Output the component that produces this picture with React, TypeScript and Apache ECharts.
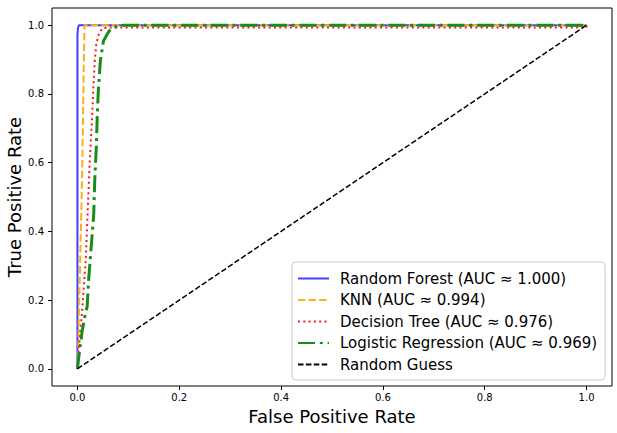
import React, { useEffect, useRef } from "react";
import * as echarts from "echarts";

const rfFpr = [0, 0, 0.001, 0.003, 1];
const rfTpr = [0, 0.97, 0.992, 1, 1];

const knnFpr = [0, 0.001, 0.003, 0.006, 0.009, 0.011, 0.0125, 0.014, 1];
const knnTpr = [0, 0.02, 0.165, 0.355, 0.55, 0.74, 0.896, 1, 1];

const dtFpr = [0, 0.003, 0.009, 0.016, 0.02, 0.024, 0.029, 0.031, 0.034, 0.037, 0.042, 0.049, 0.06, 1, 1];
const dtTpr = [0, 0.066, 0.165, 0.31, 0.454, 0.6, 0.74, 0.81, 0.896, 0.945, 0.974, 0.991, 0.993, 0.993, 1];

const lrFpr = [0, 0.003, 0.009, 0.016, 0.019, 0.022, 0.027, 0.032, 0.034, 0.037, 0.039, 0.041, 0.045, 0.051, 0.062, 0.071, 0.09, 1];
const lrTpr = [0, 0.038, 0.107, 0.165, 0.18, 0.26, 0.355, 0.45, 0.55, 0.645, 0.74, 0.81, 0.896, 0.954, 0.983, 0.994, 1, 1];

const guessFpr = [0, 1];
const guessTpr = [0, 1];

const seriesNames = [
  "Random Forest (AUC ≈ 1.000)",
  "KNN (AUC ≈ 0.994)",
  "Decision Tree (AUC ≈ 0.976)",
  "Logistic Regression (AUC ≈ 0.969)",
  "Random Guess",
];

const tickValues = [0, 0.2, 0.4, 0.6, 0.8, 1.0];

const pairs = (xs: number[], ys: number[]) => xs.map((x, i) => [x, ys[i]]);

const FONT = "DejaVu Sans";

export default function App() {
  const ref = useRef<HTMLDivElement>(null);
  useEffect(() => {
    if (!ref.current) return;
    const chart = echarts.init(ref.current, undefined, { renderer: "svg" });
    const mkAxis = (name: string, isX: boolean) => ({
      type: "value",
      min: -0.05,
      max: 1.05,
      name,
      nameLocation: "middle",
      nameGap: isX ? 21 : 29,
      nameMoveOverlap: false,
      nameTextStyle: { fontFamily: FONT, fontSize: 18, color: "#000" },
      axisLine: { show: false, onZero: false },
      axisTick: {
        show: true,
        length: 4,
        lineStyle: { color: "#000", width: 1 },
        customValues: tickValues,
      },
      axisLabel: {
        show: true,
        margin: isX ? 6 : 8,
        fontFamily: FONT,
        fontSize: 10,
        color: "#000",
        customValues: tickValues,
        formatter: (v: number) => v.toFixed(1),
      },
      splitLine: { show: false },
    });
    const lineSeries = (
      name: string,
      data: number[][],
      color: string,
      width: number,
      type: any,
      z: number
    ) => ({
      name,
      type: "line",
      data,
      symbol: "none",
      showSymbol: false,
      z,
      lineStyle: { color, width, type, cap: "butt", join: "round" },
      itemStyle: { color },
    });
    chart.setOption({
      animation: false,
      backgroundColor: "#fff",
      grid: {
        left: 52,
        right: 5,
        top: 8,
        bottom: 47,
        show: true,
        borderColor: "#000",
        borderWidth: 1,
        containLabel: false,
        outerBoundsMode: "none",
      },
      xAxis: mkAxis("False Positive Rate", true),
      yAxis: mkAxis("True Positive Rate", false),
      legend: {
        data: seriesNames,
        orient: "vertical",
        left: 292,
        top: 262,
        itemWidth: 31,
        itemHeight: 14,
        itemGap: 6.5,
        padding: [9, 8, 8, 5],
        backgroundColor: "rgba(255,255,255,0.8)",
        borderColor: "#cccccc",
        borderWidth: 1,
        borderRadius: 4,
        itemStyle: { opacity: 0, color: "transparent", borderWidth: 0 },
        textStyle: {
          fontFamily: FONT,
          fontSize: 15,
          color: "#000",
          padding: [0, 0, 0, 6],
        },
      },
      series: [
        lineSeries(seriesNames[0], pairs(rfFpr, rfTpr), "#4040ff", 2, "solid", 2),
        lineSeries(seriesNames[1], pairs(knnFpr, knnTpr), "#ffae1a", 2, [7.4, 3.2], 3),
        lineSeries(seriesNames[2], pairs(dtFpr, dtTpr), "#ff1a1a", 2, [2, 3.3], 4),
        lineSeries(seriesNames[3], pairs(lrFpr, lrTpr), "#1a8c1a", 3, [17, 4.8, 3, 4.8], 5),
        lineSeries(seriesNames[4], pairs(guessFpr, guessTpr), "#000", 1.5, [5.5, 2.4], 6),
      ],
    });
    return () => chart.dispose();
  }, []);
  return <div ref={ref} style={{ width: 617, height: 433, position: "absolute", left: 0, top: 0 }} />;
}
